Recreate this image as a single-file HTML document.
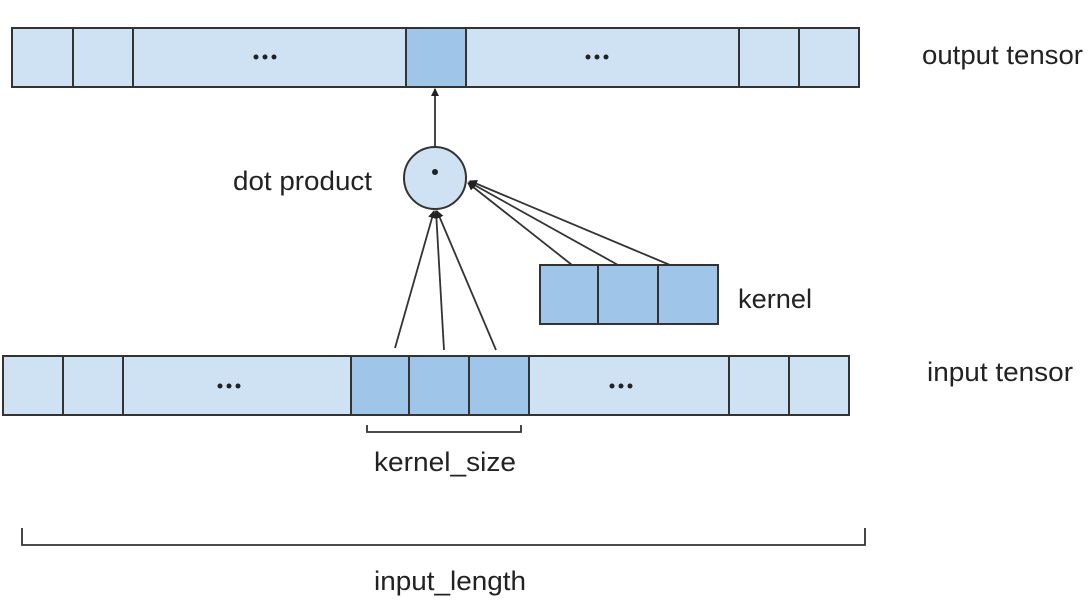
<!DOCTYPE html>
<html><head><meta charset="utf-8"><style>
html,body{margin:0;padding:0;background:#fff;}
svg{display:block;}
text{font-family:"Liberation Sans",Arial,sans-serif;fill:#222;}
</style></head><body>
<svg width="1090" height="608" viewBox="0 0 1090 608" xmlns="http://www.w3.org/2000/svg">
<defs>
<marker id="a" markerWidth="8" markerHeight="8" refX="7" refY="4" orient="auto" markerUnits="userSpaceOnUse">
<path d="M0,0 L8,4 L0,8 z" fill="#222"/></marker>
</defs>
<g stroke="#333" stroke-width="2">
<rect x="12" y="28" width="847" height="59" fill="#cfe2f3"/>
<rect x="406" y="28" width="60" height="59" fill="#9fc5e8"/>
<line x1="73" y1="28" x2="73" y2="87"/><line x1="133" y1="28" x2="133" y2="87"/>
<line x1="739" y1="28" x2="739" y2="87"/><line x1="799" y1="28" x2="799" y2="87"/>
<rect x="3" y="356" width="846" height="59" fill="#cfe2f3"/>
<rect x="351" y="356" width="178" height="59" fill="#9fc5e8"/>
<line x1="63" y1="356" x2="63" y2="415"/><line x1="123" y1="356" x2="123" y2="415"/>
<line x1="409" y1="356" x2="409" y2="415"/><line x1="469" y1="356" x2="469" y2="415"/>
<line x1="729" y1="356" x2="729" y2="415"/><line x1="789" y1="356" x2="789" y2="415"/>
<rect x="540" y="265" width="178" height="59" fill="#9fc5e8"/>
<line x1="598" y1="265" x2="598" y2="324"/><line x1="658" y1="265" x2="658" y2="324"/>
<circle cx="435" cy="178" r="31" fill="#cfe2f3"/>
</g>
<g stroke="#333" stroke-width="1.8" fill="none">
<line x1="435" y1="147" x2="435" y2="89" marker-end="url(#a)"/>
<line x1="395" y1="348" x2="434" y2="211" marker-end="url(#a)"/>
<line x1="444" y1="350" x2="436" y2="211" marker-end="url(#a)"/>
<line x1="496" y1="350" x2="437" y2="211" marker-end="url(#a)"/>
<line x1="572" y1="265" x2="468" y2="183" marker-end="url(#a)"/>
<line x1="618" y1="265" x2="469" y2="182" marker-end="url(#a)"/>
<line x1="670" y1="265" x2="470" y2="181" marker-end="url(#a)"/>
<path d="M367,425 V432 H521 V425"/>
<path d="M22,528 V545 H865 V528"/>
</g>
<g fill="#222">
<circle cx="435" cy="172" r="3"/>
<circle cx="256" cy="57" r="2.5"/><circle cx="265" cy="57" r="2.5"/><circle cx="274" cy="57" r="2.5"/>
<circle cx="588" cy="57" r="2.5"/><circle cx="597" cy="57" r="2.5"/><circle cx="606" cy="57" r="2.5"/>
<circle cx="220" cy="386" r="2.5"/><circle cx="229" cy="386" r="2.5"/><circle cx="238" cy="386" r="2.5"/>
<circle cx="612" cy="386" r="2.5"/><circle cx="621" cy="386" r="2.5"/><circle cx="630" cy="386" r="2.5"/>
</g>
<g font-size="27">
<text x="922" y="64" textLength="161" lengthAdjust="spacingAndGlyphs">output tensor</text>
<text x="233" y="190" textLength="139" lengthAdjust="spacingAndGlyphs">dot product</text>
<text x="738" y="308" textLength="74" lengthAdjust="spacingAndGlyphs">kernel</text>
<text x="927" y="381" textLength="146" lengthAdjust="spacingAndGlyphs">input tensor</text>
<text x="374" y="471" textLength="142" lengthAdjust="spacingAndGlyphs">kernel_size</text>
<text x="374" y="590" textLength="152" lengthAdjust="spacingAndGlyphs">input_length</text>
</g>
</svg>
</body></html>
